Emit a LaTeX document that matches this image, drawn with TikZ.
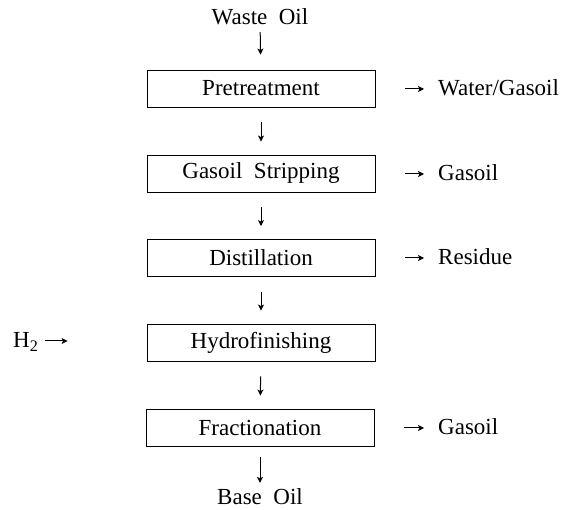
\documentclass[tikz,border=0pt]{standalone}
\usepackage{fontspec}
\setmainfont{Liberation Serif}
\usetikzlibrary{arrows.meta}
\begin{document}
\begin{tikzpicture}[x=1pt,y=-1pt,
  every node/.style={font=\fontsize{23}{26}\selectfont},
  stepbox/.style={draw,line width=0.9pt,minimum width=228pt,minimum height=37pt,inner sep=0pt},
  lbl/.style={inner sep=0pt,text height=14pt,text depth=0pt},
  arr/.style={line width=1pt,-{Stealth[length=6pt,width=6pt,inset=1.5pt]}}]
\useasboundingbox (0,0) rectangle (568,510);
\node[lbl] (waste) at (260,18) {Waste\ \ Oil};
\node[stepbox] (pre) at (261,88.5) {Pretreatment};
\node[stepbox] (gs) at (261,173.5) {Gasoil\ \ Stripping};
\node[stepbox] (dist) at (261,258) {Distillation};
\node[stepbox] (hyd) at (261,342.5) {Hydrofinishing};
\node[stepbox] (frac) at (260,427.5) {Fractionation};
\node[lbl] (base) at (260,497) {Base\ \ Oil};
\node[lbl,anchor=west] (wg) at (438,89) {Water/Gasoil};
\node[lbl,anchor=west] (g1) at (438,174) {Gasoil};
\node[lbl,anchor=west] (res) at (438,258) {Residue};
\node[lbl,anchor=west] (g2) at (438,428) {Gasoil};
\node[lbl,anchor=west] (h2) at (13,341) {H\textsubscript{2}};
\draw[arr,shorten <=7pt,shorten >=15pt] (waste) -- (pre);
\draw[arr,shorten <=15pt,shorten >=13pt] (pre) -- (gs);
\draw[arr,shorten <=15pt,shorten >=13pt] (gs) -- (dist);
\draw[arr,shorten <=15pt,shorten >=13pt] (dist) -- (hyd);
\draw[arr,shorten <=15pt,shorten >=13pt] (hyd) -- (frac);
\draw[arr,shorten <=11pt,shorten >=7pt] (frac) -- (base);
\draw[arr,shorten <=30pt,shorten >=14pt] (pre.east |- wg.west) -- (wg.west);
\draw[arr,shorten <=30pt,shorten >=14pt] (gs.east |- g1.west) -- (g1.west);
\draw[arr,shorten <=30pt,shorten >=14pt] (dist.east |- res.west) -- (res.west);
\draw[arr,shorten <=30pt,shorten >=14pt] (frac.east |- g2.west) -- (g2.west);
\draw[arr,shorten <=6pt,shorten >=79pt] (h2.east) -- (hyd.west |- h2.east);
\end{tikzpicture}
\end{document}
